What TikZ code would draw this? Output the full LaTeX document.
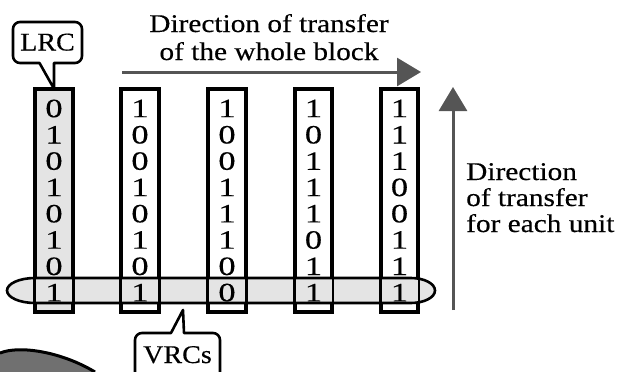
\documentclass[tikz,border=0pt]{standalone}
\usepackage{fontspec}
\usepackage{graphicx}
\setmainfont{Liberation Serif}[FakeBold=0.35]
\usetikzlibrary{arrows.meta}
\definecolor{bandgray}{HTML}{E4E4E4}
\definecolor{arrowgray}{HTML}{555555}
\definecolor{scangray}{HTML}{707070}
\newcommand{\wide}[1]{\scalebox{1.15}[1]{#1}}
\newcommand{\widedigit}[1]{\scalebox{1.3}[1]{#1}}
\tikzset{
  colbox/.style={draw=black, line width=2.6pt, minimum width=36pt, minimum height=221pt, inner sep=0pt},
  digit/.style={anchor=base, inner sep=0pt, font=\fontsize{26.5}{26}\selectfont},
  lbl/.style={inner sep=0pt, font=\fontsize{25.5}{26}\selectfont},
  bigarrow/.style={draw=arrowgray, line width=3pt, -{Triangle[length=24pt,width=28pt]}},
  callout/.style={draw=black, line width=2.6pt, fill=white, line join=round},
}
\begin{document}
\begin{tikzpicture}[x=1pt,y=-1pt]
\useasboundingbox (0,0) rectangle (629,372);
% scan artefact bottom-left
\fill[scangray] (0,353) .. controls (20,345) and (62,352) .. (95,372) -- (0,372) -- cycle;
\draw[line width=3pt] (0,353) .. controls (20,345) and (62,352) .. (95,372);
% column boxes
\node[colbox, fill=bandgray] (c1) at (54,200.5) {};
\node[colbox] (c2) at (140,200.5) {};
\node[colbox] (c3) at (227,200.5) {};
\node[colbox] (c4) at (313.5,200.5) {};
\node[colbox] (c5) at (399.5,200.5) {};
% band fill
\fill[bandgray] (35,278) -- (411,278) arc[start angle=-90, end angle=90, x radius=24, y radius=12.5]
  -- (35,303) arc[start angle=90, end angle=270, x radius=28, y radius=12.5] -- cycle;
% column borders over band
\foreach \c in {c1,c2,c3,c4,c5} \draw[line width=2.6pt] (\c.south west) rectangle (\c.north east);
% band outline
\draw[line width=2.6pt] (35,278) -- (411,278) arc[start angle=-90, end angle=90, x radius=24, y radius=12.5]
  -- (35,303) arc[start angle=90, end angle=270, x radius=28, y radius=12.5] -- cycle;
\coordinate (bandbottom) at (183,310);
% digits
\foreach \x/\bits in {54/{0,1,0,1,0,1,0,1}, 140/{1,0,0,1,0,1,0,1}, 227/{1,0,0,1,1,1,0,0}, 313.5/{1,0,1,1,1,0,1,1}, 399.5/{1,1,1,0,0,1,1,1}} {
  \foreach \b [count=\i from 0] in \bits {
    \node[digit] at (\x,{117.2+26.3*\i}) {\widedigit{\b}};
  }
}
% arrows
\coordinate (hstart) at (122,72);
\coordinate (hend) at (421,72);
\draw[bigarrow] (hstart) -- (hend);
\coordinate (vstart) at (453,310);
\coordinate (vend) at (453,87);
\draw[bigarrow] (vstart) -- (vend);
% labels
\node[lbl, anchor=base] (toplbl) at (269,32) {\wide{\begin{tabular}[t]{@{}c@{}}Direction of transfer\\[2pt]of the whole block\end{tabular}}};
\node[lbl, anchor=base west] (rightlbl) at (466,180) {\wide{\begin{tabular}[t]{@{}l@{}}Direction\\of transfer\\for each unit\end{tabular}}};
% LRC callout
\draw[callout] (39.5,63) -- (c1.north) -- (54,63) [rounded corners=7pt] -- (82,63) -- (82,22) -- (13,22) -- (13,63) [sharp corners] -- cycle;
\node[lbl, anchor=base] (lrc) at (47.5,50.5) {\scalebox{1.1}[1]{LRC}};
% VRCs callout
\draw[callout] (171,333) -- (bandbottom) -- (184,333) [rounded corners=7pt] -- (220,333) -- (220,392) -- (135,392) -- (135,333) [sharp corners] -- cycle;
\node[lbl, anchor=base] (vrcs) at (177.5,363) {\scalebox{1.1}[1]{VRCs}};
\end{tikzpicture}
\end{document}
